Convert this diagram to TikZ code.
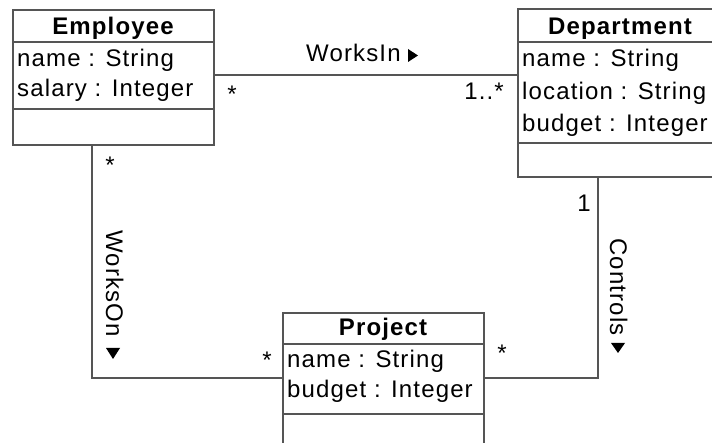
\documentclass[tikz,border=0pt]{standalone}
\usepackage{fontspec}
\setmainfont{Liberation Sans}[LetterSpace=4.75]
\usetikzlibrary{calc}
\definecolor{umlline}{RGB}{85,85,85}
\tikzset{
  classbox/.style={draw=umlline, line width=1.6pt, fill=white, inner sep=0pt, anchor=north west},
  compartment/.style={draw=umlline, line width=1.6pt},
  assoc/.style={draw=umlline, line width=1.6pt},
  header/.style={inner sep=0pt, anchor=base, font=\fontsize{24}{29}\selectfont\bfseries},
  attr/.style={inner sep=0pt, anchor=base west, font=\fontsize{24}{29}\selectfont},
  mult/.style={inner sep=0pt, anchor=base, font=\fontsize{24}{29}\selectfont},
  assoclabel/.style={inner sep=0pt, anchor=base west, font=\fontsize{24}{29}\selectfont},
  navtri/.style={fill=black, draw=none}
}
\begin{document}
\begin{tikzpicture}[x=1pt, y=-1pt]
\useasboundingbox (0,0) rectangle (712,443);
\clip (0,0) rectangle (712,443);

% class boxes
\node[classbox, minimum width=201pt, minimum height=135pt] (emp) at (12,9) {};
\node[classbox, minimum width=206pt, minimum height=168pt] (dept) at (517,8) {};
\node[classbox, minimum width=201pt, minimum height=137pt] (proj) at (282,312) {};

% compartment separators
\draw[compartment] ([yshift=-33pt]emp.north west) -- ([yshift=-33pt]emp.north east);
\draw[compartment] ([yshift=-100pt]emp.north west) -- ([yshift=-100pt]emp.north east);
\draw[compartment] ([yshift=-34pt]dept.north west) -- ([yshift=-34pt]dept.north east);
\draw[compartment] ([yshift=-135pt]dept.north west) -- ([yshift=-135pt]dept.north east);
\draw[compartment] ([yshift=-32pt]proj.north west) -- ([yshift=-32pt]proj.north east);
\draw[compartment] ([yshift=-102pt]proj.north west) -- ([yshift=-102pt]proj.north east);

% class names and attributes
\node[header] (empname) at (113,35) {Employee};
\node[attr] (empa1) at (17,67) {name : String};
\node[attr] (empa2) at (17,97) {salary : Integer};

\node[header] (deptname) at (620,35) {Department};
\node[attr] (depta1) at (522,67) {name : String};
\node[attr] (depta2) at (522,100) {location : String};
\node[attr] (depta3) at (522,132) {budget : Integer};

\node[header] (projname) at (383,336) {Project};
\node[attr] (proja1) at (287,368) {name : String};
\node[attr] (proja2) at (287,398) {budget : Integer};

% associations
\draw[assoc] ([yshift=-66pt]emp.north east) -- ([yshift=-67pt]dept.north west);
\draw[assoc] ([xshift=80pt]emp.south west) |- ([yshift=-66pt]proj.north west);
\draw[assoc] ([xshift=81pt]dept.south west) |- ([yshift=-66pt]proj.north east);

% association names with reading-direction triangles
\node[assoclabel] (worksin) at (306,61.5) {WorksIn};
\fill[navtri] (408,49) -- (418,55.5) -- (408,62) -- cycle;

\node[assoclabel, rotate=-90] (workson) at (106,230) {WorksOn};
\fill[navtri] (106,348) -- (120,348) -- (113,359) -- cycle;

\node[assoclabel, rotate=-90] (controls) at (610,238) {Controls};
\fill[navtri] (611,343) -- (625,343) -- (618,353) -- cycle;

% multiplicities
\node[mult] (m1) at (232,103) {*};
\node[mult, anchor=base east] (m2) at (504,100) {1..*};
\node[mult] (m3) at (110,174) {*};
\node[mult] (m4) at (267,369) {*};
\node[mult] (m5) at (584,212) {1};
\node[mult] (m6) at (502,362) {*};
\end{tikzpicture}
\end{document}
